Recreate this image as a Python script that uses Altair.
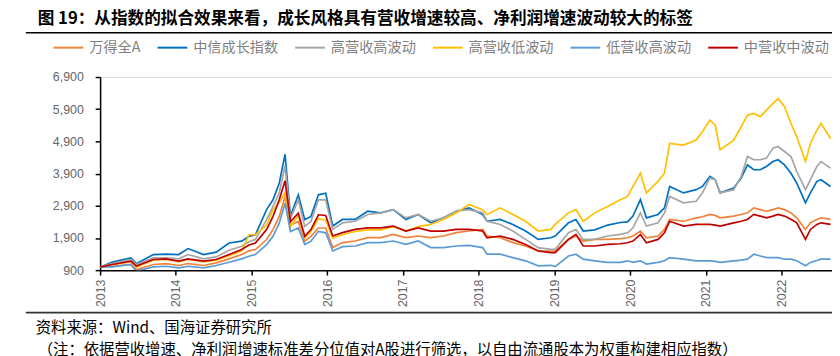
import altair as alt
import pandas as pd

dates = [
    "2013-01-04", "2013-03-01", "2013-05-29", "2013-06-25", "2013-09-15", "2013-11-15",
    "2014-01-15", "2014-03-01", "2014-05-15", "2014-07-15", "2014-09-15", "2014-11-15",
    "2014-12-20", "2015-01-20", "2015-03-15", "2015-04-15", "2015-05-15", "2015-06-12",
    "2015-07-08", "2015-08-15", "2015-09-15", "2015-10-15", "2015-11-20", "2015-12-25",
    "2016-01-28", "2016-03-15", "2016-05-15", "2016-07-15", "2016-09-15", "2016-11-15",
    "2017-01-15", "2017-03-15", "2017-05-15", "2017-07-15", "2017-09-15", "2017-11-15",
    "2018-01-20", "2018-02-10", "2018-04-15", "2018-06-15", "2018-08-15", "2018-10-15",
    "2018-12-15", "2019-01-05", "2019-03-10", "2019-04-15", "2019-05-20", "2019-07-15",
    "2019-09-15", "2019-11-15", "2019-12-20", "2020-01-15", "2020-02-20", "2020-03-20",
    "2020-05-15", "2020-06-15", "2020-07-10", "2020-09-15", "2020-11-15", "2020-12-15",
    "2021-01-20", "2021-02-15", "2021-03-10", "2021-05-15", "2021-06-20", "2021-07-20",
    "2021-08-20", "2021-09-20", "2021-10-20", "2021-11-20", "2021-12-15", "2022-01-15",
    "2022-02-15", "2022-03-15", "2022-04-26", "2022-05-20", "2022-06-20", "2022-07-10",
    "2022-08-25",
]

wind_a = [
    1000, 1020, 1075, 920, 1075, 1105,
    1045, 1105, 1045, 1125, 1250, 1385,
    1500, 1540, 1850, 2160, 2570, 3190,
    2300, 2415, 1800, 1950, 2210, 2210,
    1600, 1755, 1805, 1910, 1910, 2010,
    1910, 1960, 1910, 1960, 2065, 2115,
    2165, 1960, 1910, 1755, 1650, 1495,
    1495, 1495, 1855, 1960, 1805, 1855,
    1855, 1880, 1905, 1960, 2115, 1905,
    1960, 2165, 2475, 2420, 2525, 2560,
    2630, 2600, 2525, 2580, 2630, 2680,
    2835, 2780, 2730, 2780, 2835, 2780,
    2680, 2525, 2165, 2370, 2475, 2525,
    2475,
]

citic_growth = [
    1000, 1150, 1280, 1100, 1385, 1400,
    1385, 1570, 1385, 1460, 1745, 1800,
    1950, 2000, 2780, 3085, 3600, 4500,
    2570, 3240, 2470, 2570, 3240, 3290,
    2270, 2475, 2475, 2730, 2680, 2780,
    2475, 2630, 2370, 2525, 2730, 2835,
    2630, 2420, 2475, 2320, 2115, 1855,
    1905, 1960, 2370, 2475, 2115, 2150,
    2300, 2380, 2400, 2580, 3090, 2525,
    2630, 2835, 3500, 3300, 3400, 3500,
    3810, 3710, 3300, 3450, 3760, 4170,
    4020, 4020, 4120, 4275, 4330, 4170,
    3910, 3605, 2990, 3300, 3660, 3710,
    3500,
]

high_rev_high_vol = [
    1000, 1105, 1230, 1075, 1280, 1280,
    1250, 1385, 1250, 1310, 1520, 1640,
    1780, 1850, 2470, 2880, 3290, 4150,
    2500, 3085, 2260, 2415, 3085, 3085,
    2165, 2370, 2420, 2630, 2680, 2780,
    2525, 2630, 2420, 2525, 2730, 2780,
    2680, 2420, 2320, 2115, 1855, 1600,
    1545, 1545, 2065, 2165, 1855, 1855,
    1960, 2010, 2060, 2215, 2680, 2270,
    2370, 2680, 3190, 2990, 3040, 3300,
    3760, 3710, 3300, 3400, 3810, 4430,
    4330, 4330, 4380, 4690, 4740, 4585,
    4430, 3965, 3400, 3710, 4120, 4275,
    4070,
]

high_rev_low_vol = [
    1000, 1060, 1160, 1000, 1210, 1230,
    1160, 1230, 1160, 1210, 1350, 1500,
    2000, 2000, 2300, 2780, 3000, 3300,
    2250, 2600, 1900, 2100, 2500, 2450,
    1900, 2000, 2100, 2150, 2150, 2250,
    2115, 2250, 2320, 2475, 2680, 2940,
    2780, 2630, 2835, 2630, 2420, 2115,
    2165, 2320, 2680, 2780, 2420, 2680,
    2880, 3090, 3190, 3500, 3915, 3300,
    3660, 3915, 4835, 4785, 4940, 5200,
    5560, 5400, 4635, 4940, 5355, 5715,
    5770, 5665, 5870, 6075, 6230, 5975,
    5460, 5045, 4275, 4835, 5250, 5460,
    4990,
]

low_rev_high_vol = [
    1000, 1000, 1075, 870, 1000, 1020,
    970, 1020, 970, 1045, 1145, 1250,
    1330, 1385, 1695, 1950, 2360, 2980,
    2100, 2210, 1695, 1800, 2105, 2060,
    1495, 1630, 1650, 1755, 1755, 1805,
    1700, 1805, 1600, 1600, 1650, 1670,
    1600, 1395, 1395, 1290, 1190, 1035,
    1050, 1010, 1340, 1395, 1240, 1190,
    1140, 1140, 1190, 1140, 1190, 1090,
    1140, 1190, 1290, 1240, 1190, 1190,
    1190, 1170, 1140, 1190, 1210, 1240,
    1395, 1340, 1290, 1290, 1290, 1240,
    1240, 1190, 1035, 1140, 1200, 1240,
    1240,
]

mid_rev_mid_vol = [
    1000, 1075, 1180, 1025, 1230, 1250,
    1180, 1250, 1180, 1230, 1385, 1540,
    1680, 1745, 2160, 2570, 3085, 3680,
    2400, 2670, 1950, 2160, 2620, 2600,
    1960, 2065, 2165, 2215, 2215, 2270,
    2115, 2215, 2115, 2115, 2165, 2165,
    2115, 1900, 1960, 1855, 1700, 1495,
    1445, 1445, 1855, 2010, 1650, 1650,
    1700, 1720, 1750, 1805, 2010, 1750,
    1855, 2060, 2420, 2270, 2320, 2320,
    2320, 2300, 2270, 2370, 2420, 2475,
    2630, 2580, 2525, 2580, 2630, 2580,
    2480, 2370, 1855, 2165, 2320, 2370,
    2320,
]

series_names = ["万得全A", "中信成长指数", "高营收高波动", "高营收低波动", "低营收高波动", "中营收中波动"]
series_colors = ["#F0833A", "#0070C0", "#A5A5A5", "#FFC000", "#5B9BD5", "#C00000"]
series_values = [wind_a, citic_growth, high_rev_high_vol, high_rev_low_vol, low_rev_high_vol, mid_rev_mid_vol]

y_ticks = [900, 1900, 2900, 3900, 4900, 5900, 6900]
x_years = list(range(2013, 2023))

title_text = "图 19：从指数的拟合效果来看，成长风格具有营收增速较高、净利润增速波动较大的标签"
source_text = "资料来源：Wind、国海证券研究所"
note_text = "（注：依据营收增速、净利润增速标准差分位值对A股进行筛选，以自由流通股本为权重构建相应指数）"

rows = []
for name, vals in zip(series_names, series_values):
    for d, v in zip(dates, vals):
        rows.append({"date": d, "series": name, "value": v})
df = pd.DataFrame(rows)

W, H = 739, 195
FONT = "Noto Sans CJK SC"

lines = alt.Chart(df).mark_line(strokeWidth=1.7, clip=True).encode(
    x=alt.X(
        "date:T",
        scale=alt.Scale(domain=[alt.DateTime(year=2013, month=1, date=1),
                                alt.DateTime(year=2022, month=9, date=1)]),
        axis=alt.Axis(
            values=[alt.DateTime(year=y, month=1, date=1) for y in x_years],
            format="%Y", labelAngle=270, title=None, grid=False,
            domainColor="#000000", domainWidth=1.5, tickColor="#000000",
            tickWidth=1.5, tickSize=5, labelPadding=4, labelFontSize=12.5,
            labelColor="#666666", labelFont="Liberation Sans",
        ),
    ),
    y=alt.Y(
        "value:Q",
        scale=alt.Scale(domain=[900, 6900], nice=False, zero=False),
        axis=alt.Axis(
            values=y_ticks, format=",.0f", title=None, grid=False,
            domainColor="#000000", domainWidth=1.5, tickColor="#000000",
            tickWidth=1.5, tickSize=5, labelPadding=12, labelFontSize=12.5,
            labelColor="#666666", labelFont="Liberation Sans",
        ),
    ),
    color=alt.Color(
        "series:N",
        scale=alt.Scale(domain=series_names, range=series_colors),
        legend=alt.Legend(
            orient="none", legendX=-48, legendY=-46, direction="horizontal",
            columns=6, title=None, symbolType="stroke", symbolSize=900,
            symbolStrokeWidth=2, labelFontSize=14.3, labelColor="#7f7f7f",
            labelFont=FONT, columnPadding=13, labelOffset=5,
        ),
    ),
)

def text_layer(txt, x, y, size, weight="normal", color="#000000"):
    return alt.Chart(pd.DataFrame({"t": [txt]})).mark_text(
        align="left", baseline="middle", fontSize=size, fontWeight=weight,
        font=FONT, color=color,
    ).encode(text="t:N", x=alt.value(x), y=alt.value(y))

def rule_layer(x1, x2, y, color, width):
    return alt.Chart(pd.DataFrame({"k": [0]})).mark_rule(
        color=color, strokeWidth=width
    ).encode(x=alt.value(x1), x2=alt.value(x2), y=alt.value(y))

top_rule = rule_layer(-75, W, -44.7, "#000000", 1.6)
bottom_rule = rule_layer(-75, W, 238, "#333333", 1.8)
title = text_layer(title_text, -63, -59, 16.8, "bold", "#000000")
source = text_layer(source_text, -65, 253, 15.5, "normal", "#000000")
note = text_layer(note_text, -63, 276, 15.5, "normal", "#000000")

chart = alt.layer(lines, top_rule, bottom_rule, title, source, note).properties(
    width=W, height=H,
    padding={"left": 93, "top": 68, "right": 0, "bottom": 85},
    autosize=alt.AutoSizeParams(type="none"),
).configure_view(stroke=None).configure(background="#ffffff")

chart.save("out.html", embed_options={"renderer": "svg", "actions": False})
